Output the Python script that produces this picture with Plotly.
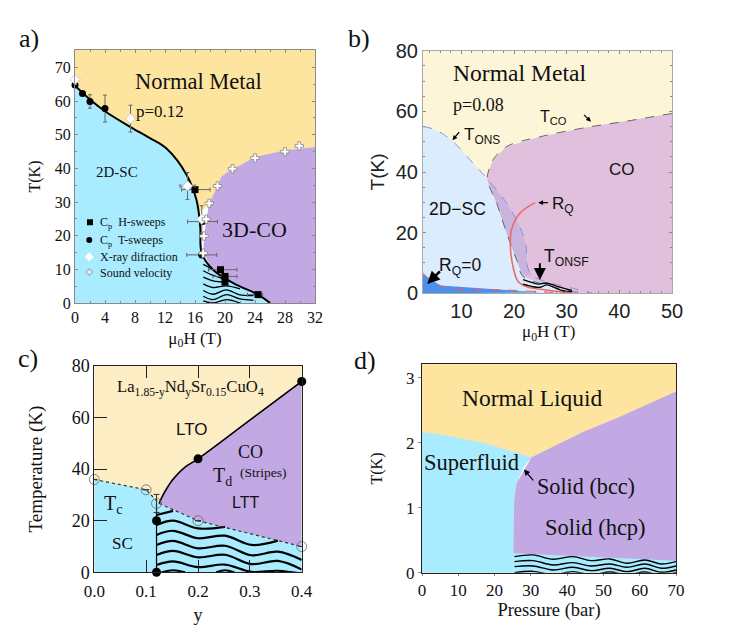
"""Four-panel phase diagrams: cuprates (a, b, c) and helium (d)."""
import plotly.graph_objects as go

SERIF = "Liberation Serif"
SANS = "Liberation Sans"
W, H = 748, 635

YELLOW = "#FDE5A0"
CREAM = "#FCEDC4"
CYAN = "#A9EBFF"
PURPLE = "#C2A9E4"

# ---- panel a: p=0.12, T vs field
a_sc_x = [0, 2, 4, 7.4, 10, 12.2, 14.9, 16.2, 16.7, 16.9, 18.4, 21.1, 24.4, 26]
a_sc_y = [64.6, 60.5, 57, 52.3, 49, 45.9, 38, 30.6, 22.7, 14.8, 9.9, 5.9, 2.5, 0]
a_co_x = [26, 32, 32, 27.8, 24, 21, 20.4, 19.5, 19, 17.9, 17.5, 17.2, 17.1, 18.4, 21.1, 24.4]
a_co_y = [0, 0, 46.4, 45.3, 43.4, 39.9, 39, 37.5, 34.8, 29.6, 24.9, 19.7, 14.8, 9.9, 5.9, 2.5]
a_nm_x = [0, 32, 32, 27.8, 24, 21, 20.4, 19.5, 19, 17.9, 17.2, 16.5, 16.2, 14.9, 12.2, 10, 7.4, 4, 2, 0]
a_nm_y = [75.2, 75.2, 46.4, 45.3, 43.4, 39.9, 39, 37.5, 34.8, 29.6, 28, 27, 30.6, 38, 45.9, 49, 52.3, 57, 60.5, 64.6]

a_h_x = [16, 19.4, 20, 20, 24.4]
a_h_y = [33.7, 9.9, 7.9, 6.2, 2.5]
a_h_xlo = [1.8, 1.6, 1.6, 0, 1.4]
a_h_xhi = [2, 2.2, 1.6, 0, 0.6]
a_t_x = [0, 1, 2, 4, 16.9, 17]
a_t_y = [64.8, 62.3, 59.9, 57.8, 14.3, 24.2]
a_t_xerr = [0, 0, 0, 0, 2, 2]
a_t_yerr = [0, 0, 2, 4, 0, 0]
a_xr_x = [0, 7.4, 15, 16.9]
a_xr_y = [66.4, 54.8, 34.8, 24.9]
a_xr_xerr = [0, 0, 1, 0]
a_xr_yerr = [0, 4, 4, 4]
a_sv_x = [17.1, 17.2, 17.5, 17.9, 19, 21, 24, 28, 29.9]
a_sv_y = [14.8, 19.9, 24.9, 29.6, 34.8, 39.9, 43.1, 45, 46.7]

a_wave_x = [17.1, 18.4, 20.2, 22, 23.8]
a_waves = [
    [11.5, 10.0],
    [9.6, 8.2, 7.0],
    [7.7, 6.6, 6.2],
    [5.7, 4.6, 5.1, 4.2],
    [3.7, 2.6, 3.9, 2.4, 2.2],
    [2.0, 1.0, 2.5, 1.2, 0.8],
    [0.6, 0.0, 1.0, 0.0],
]

# ---- panel b: p=0.08, T vs field
b_sc_x = [2.7, 5.2, 8.4, 12.2, 15.1, 18.6, 21.1, 22.3, 22.4, 23.3, 26.2, 31.3, 35]
b_sc_y = [55, 53.8, 50, 42.9, 37.4, 29.7, 22, 15.4, 9.9, 6, 3.8, 1.6, 0]
b_co_x = [50, 40.8, 34.4, 24.9, 18.6, 16, 15.1, 14.9, 16.7, 18.6, 20.5, 21.7, 24.9, 31.3, 33.2]
b_co_y = [59.3, 56.6, 54.9, 51.6, 48.4, 44, 40, 37.4, 29.7, 19.8, 11, 5.5, 3.3, 0.5, 0]
b_rq_x = [24, 21.1, 19.5, 19.3, 19.8, 20.8, 22.4, 26.2, 31.3]
b_rq_y = [29.9, 26.4, 20.9, 15.4, 8.8, 3.8, 2.2, 1.1, 0]
b_rq0_x = [2.7, 6, 18.6, 31.3]
b_rq0_y = [6.6, 2.5, 1.1, 0]
b_blue_x = [2.7, 6, 15, 25, 2.7]
b_blue_y = [6.3, 2.6, 1.5, 0.3, 0]
b_wave1_x = [21.7, 23, 24.5, 26, 28, 31]
b_wave1_y = [4.5, 3.8, 3.0, 3.4, 2.4, 1.0]
b_wave2_x = [21.7, 23.5, 25, 26.2, 27.5, 29, 31]
b_wave2_y = [3.0, 2.2, 2.0, 2.8, 2.0, 1.0, 0.6]

# ---- panel c: LNSCO, T vs y
c_tc_x = [0, 0.1, 0.125, 0.2, 0.4]
c_tc_y = [36, 32, 26.7, 20, 10]
c_line_x = [0.125, 0.13, 0.14, 0.15, 0.159, 0.175, 0.2, 0.3, 0.4]
c_line_y = [26.7, 29, 32.6, 35.6, 37.7, 40.8, 44, 59, 74]
c_open_x = [0, 0.1, 0.12, 0.2, 0.4]
c_open_y = [36, 32, 26.7, 20, 10]
c_open_err = [0, 0, 3.5, 0, 0]
c_full_x = [0.12, 0.12, 0.2, 0.4]
c_full_y = [0, 20, 44, 74]
c_wave_x = [0.12, 0.152, 0.2, 0.252, 0.303, 0.354, 0.4]
c_waves = [
    [22.2, 23.8],
    [18.3, 20.0, 17.0, 17.6],
    [14.5, 16.1, 13.2, 14.2, 10.6, 12.3],
    [10.6, 12.2, 9.3, 10.3, 6.6, 8.0, 4.8],
    [6.7, 8.3, 5.8, 6.8, 3.2, 4.4, 1.1],
    [2.8, 4.2, 2.0, 3.0, 0.2, 0.6, -0.5],
]
c_arc_x = [0.13, 0.152, 0.175]
c_arc_y = [0, 0.8, 0]
c_arc2_x = [0.235, 0.252, 0.27]
c_arc2_y = [0, 0.8, 0]

# ---- panel d: helium, T vs pressure
d_sl_x = [0, 7.7, 16.9, 30.2]
d_sl_y = [2.17, 2.1, 2.0, 1.78]
d_solid_x = [25.2, 70, 70, 62.8, 53.6, 44.5, 35.3, 30.2, 28, 26.1, 25.4]
d_solid_y = [0.3, 0.185, 2.79, 2.61, 2.38, 2.17, 1.92, 1.78, 1.62, 1.38, 1.12]
d_bcc_x = [30.2, 27.5, 26.1, 28, 30.2]
d_bcc_y = [1.78, 1.53, 1.38, 1.62, 1.78]
d_wave_x = [25.5, 30.6, 36.1, 41.6, 46.6, 51.8, 56.5, 61.4, 66, 70]
d_waves = [
    [.248, .274, .207, .248, .186, .212, .145, .196, .135, .171],
    [.171, .186, .119, .155, .104, .135, .083, .135, .068, .104],
    [.093, .104, .042, .083, .032, .068, .016, .068, .006, .042],
    [0, .021, -.03, .016, -.03, .011, -.03, .011, -.04, 0],
]

# px boxes of the four panels: left, right, top, bottom
boxes = {
    "": (75, 315, 50, 303),
    "2": (423, 672, 50.7, 293.3),
    "3": (94.3, 301.7, 366, 572.3),
    "4": (422, 676, 364.3, 572.7),
}

fig = go.Figure()


def poly(ax, xs, ys, color):
    fig.add_trace(go.Scatter(x=xs, y=ys, xaxis="x" + ax, yaxis="y" + ax, mode="lines", fill="toself",
                             fillcolor=color, line=dict(width=0), hoverinfo="skip"))


def curve(ax, xs, ys, color="black", width=2, dash="solid", shape="spline"):
    fig.add_trace(go.Scatter(x=xs, y=ys, xaxis="x" + ax, yaxis="y" + ax, mode="lines",
                             line=dict(color=color, width=width, dash=dash, shape=shape), hoverinfo="skip"))


def label(ax, x, y, text, size, family=SERIF, **kw):
    fig.add_annotation(x=x, y=y, xref="x" + ax, yref="y" + ax, text=text, showarrow=False,
                       font=dict(family=family, size=size, color="#111"), **kw)


def arrow(ax, x0, y0, x1, y1, width=1.2, head=0.8):
    fig.add_annotation(x=x1, y=y1, ax=x0, ay=y0, xref="x" + ax, yref="y" + ax, axref="x" + ax, ayref="y" + ax,
                       text="", showarrow=True, arrowhead=2, arrowwidth=width, arrowsize=head, arrowcolor="black")


# ---- a
poly("", a_nm_x, a_nm_y, YELLOW)
poly("", a_sc_x + [26, 0], a_sc_y + [0, 0], CYAN)
poly("", a_co_x, a_co_y, PURPLE)
for ys in a_waves:
    curve("", a_wave_x[:len(ys)], ys, width=1.3)
curve("", a_sc_x, a_sc_y, width=2)
fig.add_trace(go.Scatter(x=a_h_x, y=a_h_y, mode="markers", cliponaxis=False,
                         error_x=dict(type="data", symmetric=False, array=a_h_xhi, arrayminus=a_h_xlo, color="#666", thickness=1, width=2),
                         marker=dict(symbol="square", size=7, color="black")))
fig.add_trace(go.Scatter(x=a_t_x, y=a_t_y, mode="markers", cliponaxis=False,
                         error_x=dict(type="data", array=a_t_xerr, color="#666", thickness=1, width=2),
                         error_y=dict(type="data", array=a_t_yerr, color="#666", thickness=1, width=2),
                         marker=dict(symbol="circle", size=7, color="black")))
fig.add_trace(go.Scatter(x=a_xr_x, y=a_xr_y, mode="markers", cliponaxis=False,
                         error_x=dict(type="data", array=a_xr_xerr, color="#666", thickness=1, width=2),
                         error_y=dict(type="data", array=a_xr_yerr, color="#666", thickness=1, width=2),
                         marker=dict(symbol="diamond", size=8, color="white", line=dict(color="#999", width=0.5))))
fig.add_trace(go.Scatter(x=a_sv_x, y=a_sv_y, mode="markers", cliponaxis=False,
                         marker=dict(symbol="cross", size=7, color="white", line=dict(color="#777", width=0.7))))
# hand-drawn legend inside the plot
fig.add_trace(go.Scatter(x=[2], y=[24], mode="markers", marker=dict(symbol="square", size=6, color="black")))
fig.add_trace(go.Scatter(x=[1.9], y=[18.7], mode="markers", marker=dict(symbol="circle", size=6, color="black")))
fig.add_trace(go.Scatter(x=[1.9], y=[13.7], mode="markers", marker=dict(symbol="diamond", size=7, color="white")))
fig.add_trace(go.Scatter(x=[1.9], y=[9.2], mode="markers", marker=dict(symbol="cross", size=5, color="white", line=dict(color="#777", width=0.6))))
for y, txt in [(23.7, "C<sub>p</sub>  H-sweeps"), (18.4, "C<sub>p</sub>  T-sweeps"), (13.7, "X-ray difraction"), (8.9, "Sound velocity")]:
    label("", 3.0, y, txt, 12, xanchor="left")
label("", 16.4, 65.8, "Normal Metal", 22.5)
label("", 11.3, 57, "p=0.12", 17)
label("", 5.6, 39, "2D-SC", 15)
label("", 23.9, 21.7, "3D-CO", 22)

# ---- b
fig.add_shape(type="rect", xref="x2 domain", yref="y2 domain", x0=0, x1=1, y0=0, y1=1,
              fillcolor="#FDF5D8", line_width=0, layer="below")
poly("2", b_sc_x + [2.7], b_sc_y + [0], "#DAECFE")
poly("2", b_co_x + [50], b_co_y + [0], "#E0C0DC")
poly("2", b_sc_x[4:10] + b_co_x[11:6:-1], b_sc_y[4:10] + b_co_y[11:6:-1], "#C8B4DC")
poly("2", b_blue_x, b_blue_y, "#4A90F0")
curve("2", b_sc_x, b_sc_y, color="#8C8CE6", width=1, dash="dash")
curve("2", b_co_x, b_co_y, color="#666", width=1, dash="dash")
curve("2", b_rq_x, b_rq_y, color="#EE6A6A", width=1.6)
curve("2", b_rq0_x, b_rq0_y, color="#EE5A5A", width=1, dash="dash")
curve("2", b_wave1_x, b_wave1_y, width=1.3)
curve("2", b_wave2_x, b_wave2_y, width=1.3)
label("2", 21.1, 72.5, "Normal Metal", 23.6)
label("2", 13.2, 62, "p=0.08", 18)
label("2", 27.5, 58, "T<sub>CO</sub>", 16, family=SANS)
label("2", 14, 51.8, "T<sub>ONS</sub>", 17, family=SANS)
label("2", 9.2, 27.8, "2D−SC", 17.5, family=SANS)
label("2", 40.5, 40.7, "CO", 17, family=SANS)
label("2", 29.2, 29, "R<sub>Q</sub>", 17, family=SANS)
label("2", 29.9, 11.9, "T<sub>ONSF</sub>", 17.5, family=SANS)
label("2", 9.8, 8.8, "R<sub>Q</sub>=0", 17.5, family=SANS)
arrow("2", 33, 59.3, 34.6, 56.6)
arrow("2", 9.8, 53.6, 8.3, 50.5)
arrow("2", 26.7, 29.9, 24.6, 29.9)
arrow("2", 24.9, 10.4, 24.9, 4.4, width=2, head=1.2)
arrow("2", 6.2, 7.7, 3.5, 3.1, width=2.5, head=1)
# x title of b sits closer to its ticks than plotly's standoff allows
fig.add_annotation(x=548 / W, y=1 - 333 / H, xref="paper", yref="paper", text="μ<sub>0</sub>H (T)", showarrow=False,
                   xanchor="center", yanchor="middle", font=dict(family=SERIF, size=17, color="#111"))

# ---- c
fig.add_shape(type="rect", xref="x3 domain", yref="y3 domain", x0=0, x1=1, y0=0, y1=1,
              fillcolor=CREAM, line_width=0, layer="below")
poly("3", c_tc_x + [0.4, 0], c_tc_y + [0, 0], CYAN)
poly("3", c_line_x + c_tc_x[:1:-1], c_line_y + c_tc_y[:1:-1], PURPLE)
for ys in c_waves:
    curve("3", c_wave_x[:len(ys)], ys, width=2.2)
curve("3", c_arc_x, c_arc_y, width=2)
curve("3", c_arc2_x, c_arc2_y, width=2)
curve("3", c_tc_x, c_tc_y, color="#333", width=1.2, dash="dot", shape="linear")
curve("3", c_line_x, c_line_y, width=1.6)
curve("3", [0.12, 0.12], [0, 26.7], width=1.2, shape="linear")
fig.add_trace(go.Scatter(x=c_open_x, y=c_open_y, xaxis="x3", yaxis="y3", mode="markers", cliponaxis=False,
                         error_y=dict(type="data", array=c_open_err, color="#333", thickness=1, width=3),
                         marker=dict(symbol="circle-open", size=10, color="#666", line=dict(width=0.8))))
fig.add_trace(go.Scatter(x=c_full_x, y=c_full_y, xaxis="x3", yaxis="y3", mode="markers", cliponaxis=False,
                         marker=dict(symbol="circle", size=9, color="black")))
label("3", 0.186, 71.3, "La<sub>1.85-y</sub>Nd<sub>y</sub>Sr<sub>0.15</sub>CuO<sub>4</sub>", 16.7)
label("3", 0.188, 55.4, "LTO", 17, family=SANS)
label("3", 0.302, 46.8, "CO", 18)
label("3", 0.248, 37.2, "T<sub>d</sub>", 20)
label("3", 0.327, 38.8, "(Stripes)", 13.5)
label("3", 0.291, 27, "LTT", 16, family=SANS)
label("3", 0.037, 26.2, "T<sub>c</sub>", 20)
label("3", 0.054, 11.2, "SC", 17)

# ---- d
fig.add_shape(type="rect", xref="x4 domain", yref="y4 domain", x0=0, x1=1, y0=0, y1=1,
              fillcolor=YELLOW, line_width=0, layer="below")
poly("4", d_sl_x + d_solid_x[7:] + [25.2, 25.2, 0], d_sl_y + d_solid_y[7:] + [0.3, 0, 0], CYAN)
poly("4", [25.2, 70, 70, 25.2], [0, 0, 0.3, 0.3], CYAN)
poly("4", d_solid_x, d_solid_y, PURPLE)
poly("4", d_bcc_x, d_bcc_y, "white")
for ys in d_waves:
    curve("4", d_wave_x, ys, width=1.4)
label("4", 30.4, 2.69, "Normal Liquid", 23.5)
label("4", 13.7, 1.70, "Superfluid", 22.5)
label("4", 45.2, 1.33, "Solid (bcc)", 22.2)
label("4", 47.7, 0.70, "Solid (hcp)", 22.5)
arrow("4", 31, 1.40, 28.1, 1.59, width=1.2, head=1)

# panel letters
for px, py, txt in [(29, 39, "a)"), (359, 38, "b)"), (28, 359, "c)"), (365, 360, "d)")]:
    fig.add_annotation(x=px / W, y=1 - py / H, xref="paper", yref="paper", text=txt, showarrow=False,
                       xanchor="center", yanchor="middle", font=dict(family=SERIF, size=26, color="#111"))


def axis(ax_id, rng, dom, **kw):
    return dict(range=rng, domain=dom, anchor=ax_id, showgrid=False, zeroline=False, showline=True,
                automargin=False, mirror=kw.pop("mirror", "allticks"), **kw)


def xdom(key):
    return [boxes[key][0] / W, boxes[key][1] / W]


def ydom(key):
    return [1 - boxes[key][3] / H, 1 - boxes[key][2] / H]


tf_serif = dict(family=SERIF, size=16, color="#111")
tf_c = dict(family=SERIF, size=17, color="#111")
tf_sans = dict(family=SANS, size=20, color="#222")
grey = "#8a8a8a"

fig.update_layout(
    template="none", width=W, height=H, margin=dict(l=0, r=0, t=0, b=0, pad=0), showlegend=False,
    plot_bgcolor="white", paper_bgcolor="white",
    xaxis=axis("y", [0, 32], xdom(""), tickvals=[0, 4, 8, 12, 16, 20, 24, 28, 32], ticks="inside", ticklen=3, tickcolor=grey,
               linecolor=grey, tickfont=tf_serif, minor=dict(ticks="inside", ticklen=2, dtick=2, tickcolor=grey),
               title=dict(text="μ<sub>0</sub>H (T)", font=dict(family=SERIF, size=17, color="#111"), standoff=6)),
    yaxis=axis("x", [0, 75.2], ydom(""), tickvals=[0, 10, 20, 30, 40, 50, 60, 70], ticks="inside", ticklen=3, tickcolor=grey,
               linecolor=grey, tickfont=tf_serif, minor=dict(ticks="inside", ticklen=2, dtick=5, tickcolor=grey),
               title=dict(text="T(K)", font=dict(family=SERIF, size=16, color="#111"), standoff=10)),
    xaxis2=axis("y2", [2.7, 50], xdom("2"), tickvals=[10, 20, 30, 40, 50], ticks="inside", ticklen=3, tickcolor=grey,
                linecolor="#aaa", tickfont=tf_sans, minor=dict(ticks="inside", ticklen=2, dtick=2, tickcolor=grey)),
    yaxis2=axis("x2", [0, 80], ydom("2"), tickvals=[0, 20, 40, 60, 80], ticks="inside", ticklen=3, tickcolor=grey,
                linecolor="#aaa", tickfont=tf_sans, minor=dict(ticks="inside", ticklen=2, dtick=5, tickcolor=grey),
                title=dict(text="T(K)", font=dict(family=SANS, size=19, color="#222"), standoff=6)),
    xaxis3=axis("y3", [0, 0.4], xdom("3"), tickvals=[0, 0.1, 0.2, 0.3, 0.4], ticktext=["0.0", "0.1", "0.2", "0.3", "0.4"],
                ticks="inside", ticklen=12, tickcolor="#222", linecolor="#222", tickfont=tf_c, ticklabelstandoff=3,
                title=dict(text="y", font=dict(family=SERIF, size=18, color="#111"), standoff=8)),
    yaxis3=axis("x3", [0, 80], ydom("3"), tickvals=[0, 20, 40, 60, 80], ticks="inside", ticklen=13, tickcolor="#222",
                linecolor="#222", tickfont=dict(family=SERIF, size=18, color="#111"), mirror=True,
                title=dict(text="Temperature (K)", font=dict(family=SERIF, size=19, color="#111"), standoff=24)),
    xaxis4=axis("y4", [0, 70], xdom("4"), tickvals=[0, 10, 20, 30, 40, 50, 60, 70], ticks="outside", ticklen=2, tickcolor=grey,
                linecolor="#222", tickfont=tf_c, mirror=True,
                title=dict(text="Pressure (bar)", font=dict(family=SERIF, size=18.5, color="#111"), standoff=3)),
    yaxis4=axis("x4", [0, 3.21], ydom("4"), tickvals=[0, 1, 2, 3], ticks="outside", ticklen=3, tickcolor=grey,
                linecolor="#222", tickfont=tf_c, mirror=True,
                title=dict(text="T(K)", font=dict(family=SERIF, size=16, color="#111"), standoff=19)),
)

fig.write_html("out.html", config=dict(displayModeBar=False), post_script="document.body.style.margin='0';")
